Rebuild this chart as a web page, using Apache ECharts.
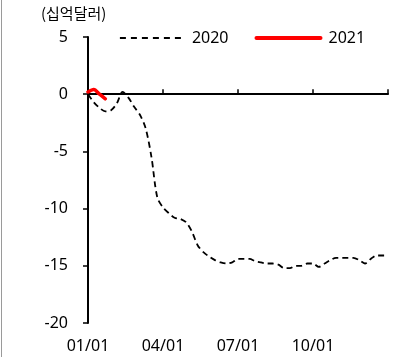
<!DOCTYPE html>
<html>
<head>
<meta charset="utf-8">
<script src="https://cdn.jsdelivr.net/npm/echarts@6/dist/echarts.min.js"></script>
<style>
html,body{margin:0;padding:0;background:#fff;}
#chart{width:393px;height:357px;}
</style>
</head>
<body>
<div id="chart"></div>
<script>
// weekly index 0..52 (one year)
const xTickLabels = ['01/01', '04/01', '07/01', '10/01', ''];
const seriesNames = ['2020', '2021'];
const values2020 = [0.0, -0.7, -1.2, -1.5, -1.4, -0.8, 0.2, -0.3, -1.1, -1.8,
  -3.0, -5.5, -9.0, -9.9, -10.4, -10.8, -10.9, -11.2, -12.0, -13.2,
  -13.8, -14.2, -14.5, -14.7, -14.8, -14.7, -14.4, -14.4, -14.4, -14.6,
  -14.7, -14.8, -14.8, -14.9, -15.2, -15.2, -15.0, -15.0, -14.8, -14.8,
  -15.1, -14.8, -14.5, -14.3, -14.3, -14.3, -14.3, -14.5, -14.8, -14.4,
  -14.1, -14.1, -14.1];
const values2021 = [0.2, 0.4, 0.0, -0.4];
const yUnit = '(십억달러)';

const FONT = '"Noto Sans", "Noto Sans CJK KR", sans-serif';
const toPairs = arr => arr.map((v, i) => [i, v]);

const chart = echarts.init(document.getElementById('chart'), null, {renderer: 'canvas'});
chart.setOption({
  animation: false,
  backgroundColor: '#fff',
  textStyle: {fontFamily: FONT},
  grid: {left: 88, right: 5, top: 37, bottom: 34},
  graphic: [
    {type: 'line', shape: {x1: 1.5, y1: 0, x2: 1.5, y2: 357}, style: {stroke: '#9a9a9a', lineWidth: 1}},
    {type: 'text', left: 41, top: 6, style: {text: yUnit, fontSize: 15, fill: '#000', fontFamily: '"Noto Sans CJK KR", sans-serif'}}
  ],
  legend: {
    left: 114, top: 25,
    itemWidth: 64, itemHeight: 12, itemGap: 26,
    itemStyle: {opacity: 0},
    textStyle: {fontSize: 16, color: '#000', fontFamily: FONT, padding: [0, 0, 0, 3]},
    data: [
      {name: seriesNames[0], lineStyle: {width: 1.8, type: [6, 5]}},
      {name: seriesNames[1], lineStyle: {width: 4, cap: 'round'}}
    ]
  },
  xAxis: [
    {
      type: 'value', min: 0, max: 52, interval: 13,
      axisLine: {onZero: true, lineStyle: {color: '#000', width: 2}},
      axisTick: {show: true, inside: true, length: 5, lineStyle: {color: '#000', width: 1.5}},
      axisLabel: {show: false},
      splitLine: {show: false}
    },
    {
      type: 'value', min: 0, max: 52, interval: 13, position: 'bottom',
      axisLine: {show: false, onZero: false},
      axisTick: {show: false},
      axisLabel: {
        margin: 15, fontSize: 16, color: '#000', fontFamily: FONT,
        formatter: v => xTickLabels[Math.round(v / 13)] || ''
      },
      splitLine: {show: false}
    }
  ],
  yAxis: {
    type: 'value', min: -20, max: 5, interval: 5,
    axisLine: {show: true, lineStyle: {color: '#000', width: 2}},
    axisTick: {show: true, inside: false, length: 5, lineStyle: {color: '#000', width: 1.5}},
    axisLabel: {margin: 20, fontSize: 16, color: '#000', fontFamily: FONT},
    splitLine: {show: false}
  },
  series: [
    {
      name: seriesNames[0], type: 'line', xAxisIndex: 0,
      data: toPairs(values2020), smooth: 0.3, symbol: 'none',
      lineStyle: {color: '#000', width: 1.8, type: [6, 4]},
      itemStyle: {color: '#000'}
    },
    {
      name: seriesNames[1], type: 'line', xAxisIndex: 0,
      data: toPairs(values2021), smooth: 0.3, symbol: 'none',
      lineStyle: {color: '#ff0000', width: 3.5, cap: 'round'},
      itemStyle: {color: '#ff0000'}
    }
  ]
});
</script>
</body>
</html>
